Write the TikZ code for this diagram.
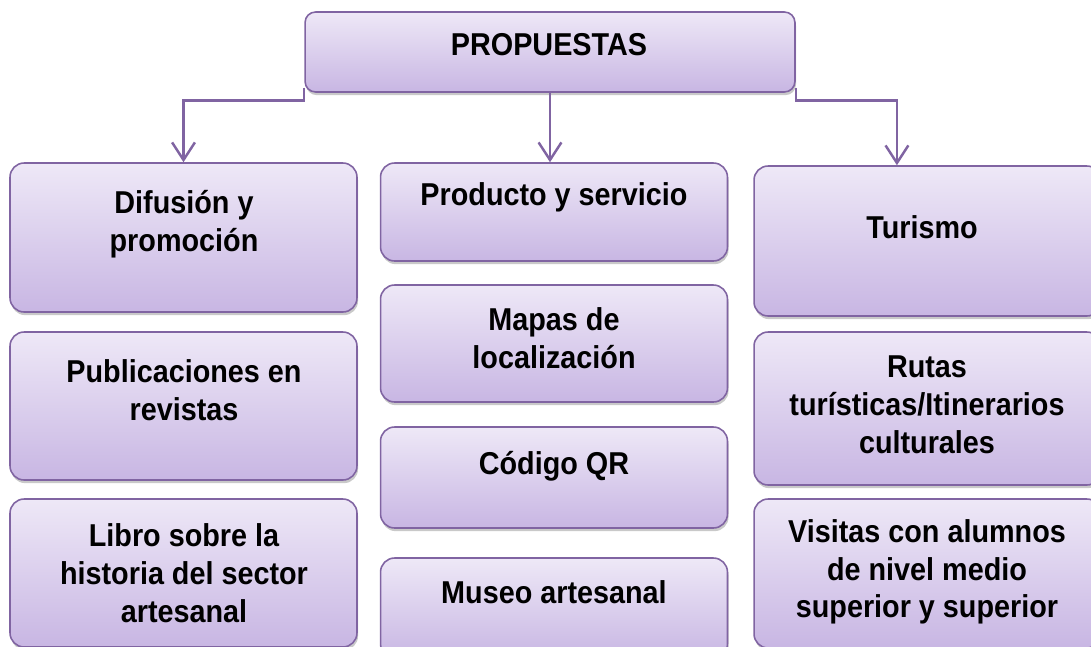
\documentclass[tikz,border=0pt]{standalone}
\usepackage{fontspec}
\setmainfont{Liberation Sans}[FakeStretch=0.91]
\usetikzlibrary{arrows.meta,shadows}

\definecolor{cardline}{RGB}{128,100,162}
\definecolor{cardtop}{RGB}{238,232,247}
\definecolor{cardbottom}{RGB}{200,182,227}

\begin{document}
\begin{tikzpicture}[x=0.02cm,y=-0.02cm]

%
% Styles
%
\tikzstyle{card} = [rectangle,rounded corners=8pt,draw=cardline,line width=0.9pt,
  top color=cardtop,bottom color=cardbottom,minimum width=6.94cm,
  drop shadow={shadow xshift=0.6pt,shadow yshift=-1.8pt,opacity=0.3,fill=black!70}]
\tikzstyle{cardtext} = [align=center,text=black,font={\fontsize{18}{21.5}\selectfont\bfseries}]
\tikzstyle{link} = [draw=cardline,line width=1.4pt,-{Straight Barb[length=10pt,width=13pt]}]

\useasboundingbox (0,0) rectangle (1091,646);
\clip (0,0) rectangle (1091,646);

% root
\node[card,minimum width=9.8cm,minimum height=1.6cm,rounded corners=6pt] (top) at (550,52) {};
\node[cardtext] (topT) at (549,45) {PROPUESTAS};

% left column
\node[card,minimum height=2.98cm] (difusion) at (183.5,237.5) {};
\node[card,minimum height=2.96cm] (publicaciones) at (183.5,406) {};
\node[card,minimum height=2.96cm] (libro) at (183.5,573) {};
\node[cardtext] (difusionT) at (184,224) {Difusión y\\promoción};
\node[cardtext] (publicacionesT) at (184,390) {Publicaciones en\\revistas};
\node[cardtext] (libroT) at (184,573) {Libro sobre la\\historia del sector\\artesanal};

% middle column
\node[card,minimum height=1.96cm] (producto) at (554,212) {};
\node[card,minimum height=2.34cm] (mapas) at (554,343.5) {};
\node[card,minimum height=2.02cm] (codigo) at (554,477.5) {};
\node[card,minimum height=2.0cm] (museo) at (554,608) {};
\node[cardtext] (productoT) at (554,197) {Producto y servicio};
\node[cardtext] (mapasT) at (554,338) {Mapas de\\localización};
\node[cardtext] (codigoT) at (554,466) {Código QR};
\node[cardtext] (museoT) at (554,592) {Museo artesanal};

% right column
\node[card,minimum height=3.0cm] (turismo) at (927.5,241) {};
\node[card,minimum height=3.06cm] (rutas) at (927.5,408.5) {};
\node[card,minimum height=2.98cm] (visitas) at (927.5,573.5) {};
\node[cardtext] (turismoT) at (922,227) {Turismo};
\node[cardtext] (rutasT) at (927,405) {Rutas\\turísticas/Itinerarios\\culturales};
\node[cardtext] (visitasT) at (927,572) {Visitas con alumnos\\de nivel medio\\superior y superior};

% connectors
\draw[link] ([yshift=3pt]top.south west) -- ++(0,13) -| (difusion.north);
\draw[link] (top.south) -- (top.south |- producto.north);
\draw[link] ([yshift=3pt]top.south east) -- ++(0,13) -| ([xshift=-17.4pt]turismo.north);

\end{tikzpicture}
\end{document}
